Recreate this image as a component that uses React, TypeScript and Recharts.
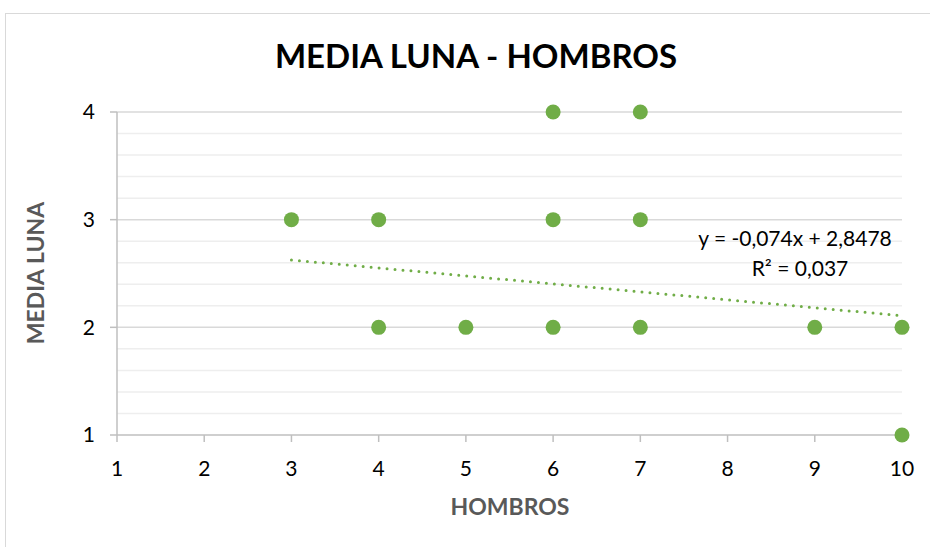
import { ScatterChart, Scatter, XAxis, YAxis, ReferenceLine } from 'recharts';

// hombros (x) vs media luna (y)
const hombros = [3, 4, 4, 5, 6, 6, 6, 7, 7, 7, 9, 10, 10];
const mediaLuna = [3, 3, 2, 2, 4, 3, 2, 4, 3, 2, 2, 2, 1];

const xTicks = [1, 2, 3, 4, 5, 6, 7, 8, 9, 10];
const yTicks = [1, 2, 3, 4];
const minorY = [1.2, 1.4, 1.6, 1.8, 2.2, 2.4, 2.6, 2.8, 3.2, 3.4, 3.6, 3.8];

// linear trend: y = -0,074x + 2,8478
const slope = -0.074;
const intercept = 2.8478;
const trendFrom = 3;
const trendTo = 10;

const GREEN = '#70AD47';
const FONT = 'Lato, "Open Sans", sans-serif';

const points = hombros.map((x, i) => ({ x, y: mediaLuna[i] }));

const Dot = (props: any) => (
  <circle cx={props.cx} cy={props.cy} r={7.5} fill={GREEN} />
);

export default function App() {
  return (
    <div style={{ position: 'fixed', left: 0, top: 0, width: 930, height: 547, background: '#fff', fontFamily: FONT, overflow: 'hidden' }}>
      <div style={{ position: 'absolute', left: 5, top: 13, width: 940, height: 560, border: '1px solid #d9d9d9' }} />
      <ScatterChart width={930} height={547} margin={{ top: 112, right: 28, left: 0, bottom: 0 }} style={{ position: 'absolute', left: 0, top: 0 }}>
        <XAxis
          type="number"
          dataKey="x"
          domain={[1, 10]}
          ticks={xTicks}
          height={112}
          axisLine={{ stroke: '#bfbfbf', strokeWidth: 1.5 }}
          tickLine={{ stroke: '#bfbfbf', strokeWidth: 1.5 }}
          tickSize={7}
          tickMargin={19}
          tick={{ fontSize: 21, fill: '#000', fontFamily: FONT }}
        />
        <YAxis
          type="number"
          dataKey="y"
          domain={[1, 4]}
          ticks={yTicks}
          width={117}
          axisLine={{ stroke: '#bfbfbf', strokeWidth: 1.5 }}
          tickLine={{ stroke: '#bfbfbf', strokeWidth: 1.5 }}
          tickSize={7}
          tickMargin={15}
          tick={{ fontSize: 21, fill: '#000', fontFamily: FONT }}
        />
        {minorY.map((v) => (
          <ReferenceLine key={'m' + v} y={v} stroke="#eeeeee" strokeWidth={1.5} />
        ))}
        {yTicks.slice(1).map((v) => (
          <ReferenceLine key={'g' + v} y={v} stroke="#d9d9d9" strokeWidth={1.5} />
        ))}
        <ReferenceLine
          segment={[
            { x: trendFrom, y: intercept + slope * trendFrom },
            { x: trendTo, y: intercept + slope * trendTo },
          ]}
          stroke={GREEN}
          strokeWidth={3}
          strokeDasharray="0 8"
          strokeLinecap="round"
        />
        <Scatter data={points} fill={GREEN} shape={Dot} isAnimationActive={false} />
      </ScatterChart>
      <div style={{ position: 'absolute', left: 0, top: 35, width: 952, textAlign: 'center', fontSize: 33, fontWeight: 700, color: '#000' }}>
        MEDIA LUNA - HOMBROS
      </div>
      <div style={{ position: 'absolute', left: 35, top: 273, transform: 'translate(-50%, -50%) rotate(-90deg)', fontSize: 23, fontWeight: 700, color: '#595959', whiteSpace: 'nowrap' }}>
        MEDIA LUNA
      </div>
      <div style={{ position: 'absolute', left: 510, top: 506, transform: 'translate(-50%, -50%)', fontSize: 23, fontWeight: 700, color: '#595959' }}>
        HOMBROS
      </div>
      <div style={{ position: 'absolute', left: 795, top: 237, transform: 'translate(-50%, -50%)', fontSize: 21, color: '#000', whiteSpace: 'nowrap' }}>
        y = -0,074x + 2,8478
      </div>
      <div style={{ position: 'absolute', left: 800, top: 267, transform: 'translate(-50%, -50%)', fontSize: 21, color: '#000', whiteSpace: 'nowrap' }}>
        R² = 0,037
      </div>
    </div>
  );
}
